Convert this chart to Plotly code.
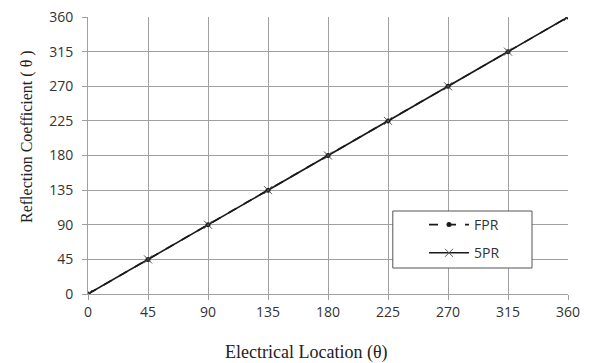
import plotly.graph_objects as go

x_vals = [0, 45, 90, 135, 180, 225, 270, 315, 360]
fpr_vals = [0, 45, 90, 135, 180, 225, 270, 315, 360]
spr_vals = [0, 45, 90, 135, 180, 225, 270, 315, 360]
tick_vals = [0, 45, 90, 135, 180, 225, 270, 315, 360]

fig = go.Figure()
fig.add_trace(go.Scatter(
    x=x_vals, y=fpr_vals, name="FPR", mode="lines+markers", legendgroup="a",
    line=dict(color="#1a1a1a", width=1.6, dash="dash"),
    marker=dict(symbol="circle", size=5, color="#1a1a1a"),
))
fig.add_trace(go.Scatter(
    x=x_vals, y=spr_vals, name="5PR", mode="lines+markers", legendgroup="b",
    line=dict(color="#1a1a1a", width=1.6),
    marker=dict(symbol="x-thin", size=8, line=dict(color="#555555", width=1)),
))

axis_common = dict(
    range=[0, 360], tickvals=tick_vals, showgrid=True, gridcolor="#a0a0a0", gridwidth=1,
    showline=True, linecolor="#a0a0a0", linewidth=1, ticks="outside", ticklen=5,
    tickcolor="#a0a0a0", zeroline=False, automargin=False, ticklabeloverflow="allow",
    tickfont=dict(family="Open Sans, Lato, sans-serif", size=14, color="#333333"),
)
fig.update_xaxes(**axis_common)
fig.update_yaxes(**axis_common, ticklabelstandoff=6)

PT = 17   # plot top (page px)
PB = 294  # plot bottom (page px)
PH = PB - PT

# axis titles
fig.add_annotation(text="Electrical Location (θ)", xref="paper", yref="paper",
                   x=(306 - 88) / 480, y=-(352 - PB) / PH, showarrow=False,
                   xanchor="center", yanchor="middle",
                   font=dict(family="Liberation Serif, Times New Roman, serif", size=18, color="#222222"))
fig.add_annotation(text="Reflection Coefficient ( θ )", xref="paper", yref="paper",
                   x=-(88 - 27) / 480, y=(PB - 137) / PH, showarrow=False, textangle=-90,
                   xanchor="center", yanchor="middle",
                   font=dict(family="Liberation Serif, Times New Roman, serif", size=16, color="#222222"))

# legend frame
fig.add_shape(type="rect", xref="paper", yref="paper",
              x0=0.635, x1=0.925, y0=(PB - 268) / PH, y1=(PB - 211) / PH,
              line=dict(color="#555555", width=1), fillcolor="white", layer="above")

fig.update_layout(
    width=584, height=356,
    margin=dict(l=80, r=24, t=9, b=70),
    plot_bgcolor="white", paper_bgcolor="white",
    legend=dict(x=0.70, y=(PB - 209) / PH, xanchor="left", yanchor="top",
                bgcolor="rgba(0,0,0,0)", borderwidth=0,
                font=dict(family="Open Sans, Lato, sans-serif", size=14, color="#333333"),
                itemwidth=40, tracegroupgap=7),
    showlegend=True,
)

fig.write_html("out.html")
